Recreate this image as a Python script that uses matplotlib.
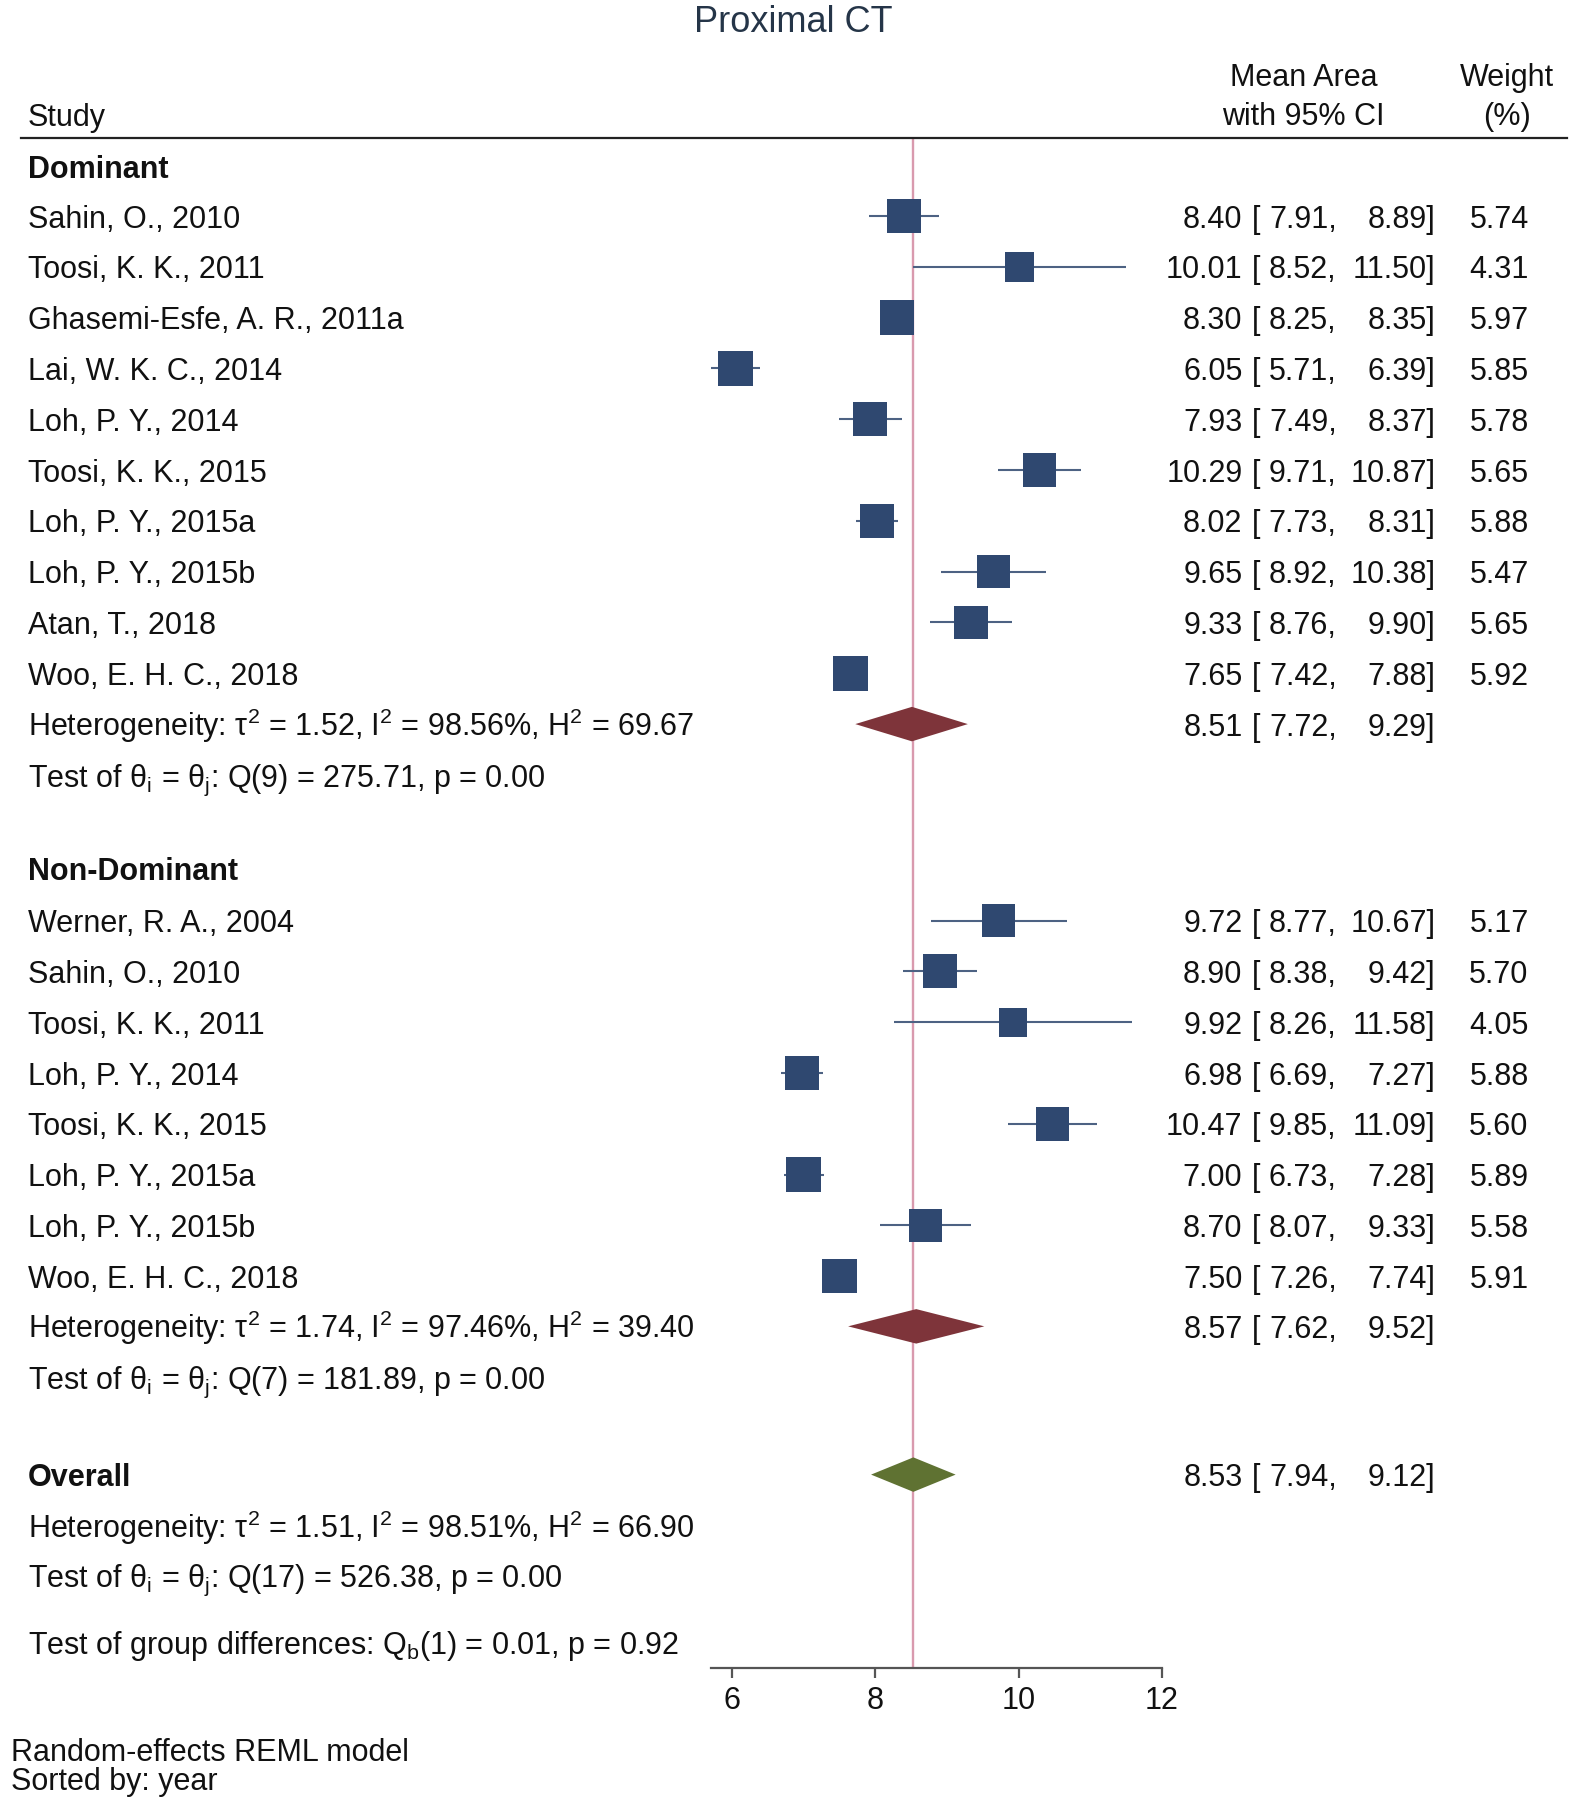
import matplotlib
matplotlib.use("Agg")
import matplotlib.pyplot as plt
from matplotlib.transforms import blended_transform_factory
import numpy as np

plt.rcParams['font.family'] = ['Liberation Sans', 'DejaVu Sans']
plt.rcParams['mathtext.fontset'] = 'custom'
plt.rcParams['mathtext.rm'] = 'Liberation Sans'
plt.rcParams['mathtext.it'] = 'Liberation Sans'

# ---- data ----
dom_study = ["Sahin, O., 2010", "Toosi, K. K., 2011", "Ghasemi-Esfe, A. R., 2011a",
             "Lai, W. K. C., 2014", "Loh, P. Y., 2014", "Toosi, K. K., 2015",
             "Loh, P. Y., 2015a", "Loh, P. Y., 2015b", "Atan, T., 2018", "Woo, E. H. C., 2018"]
dom_mean = [8.40, 10.01, 8.30, 6.05, 7.93, 10.29, 8.02, 9.65, 9.33, 7.65]
dom_lo = [7.91, 8.52, 8.25, 5.71, 7.49, 9.71, 7.73, 8.92, 8.76, 7.42]
dom_hi = [8.89, 11.50, 8.35, 6.39, 8.37, 10.87, 8.31, 10.38, 9.90, 7.88]
dom_w = [5.74, 4.31, 5.97, 5.85, 5.78, 5.65, 5.88, 5.47, 5.65, 5.92]

nd_study = ["Werner, R. A., 2004", "Sahin, O., 2010", "Toosi, K. K., 2011", "Loh, P. Y., 2014",
            "Toosi, K. K., 2015", "Loh, P. Y., 2015a", "Loh, P. Y., 2015b", "Woo, E. H. C., 2018"]
nd_mean = [9.72, 8.90, 9.92, 6.98, 10.47, 7.00, 8.70, 7.50]
nd_lo = [8.77, 8.38, 8.26, 6.69, 9.85, 6.73, 8.07, 7.26]
nd_hi = [10.67, 9.42, 11.58, 7.27, 11.09, 7.28, 9.33, 7.74]
nd_w = [5.17, 5.70, 4.05, 5.88, 5.60, 5.89, 5.58, 5.91]

dom_pool = (8.51, 7.72, 9.29)
nd_pool = (8.57, 7.62, 9.52)
ov_pool = (8.53, 7.94, 9.12)

dom_het = r"Heterogeneity: τ$^\mathregular{2}$ = 1.52, I$^\mathregular{2}$ = 98.56%, H$^\mathregular{2}$ = 69.67"
dom_test = r"Test of θ$_\mathregular{i}$ = θ$_\mathregular{j}$: Q(9) = 275.71, p = 0.00"
nd_het = r"Heterogeneity: τ$^\mathregular{2}$ = 1.74, I$^\mathregular{2}$ = 97.46%, H$^\mathregular{2}$ = 39.40"
nd_test = r"Test of θ$_\mathregular{i}$ = θ$_\mathregular{j}$: Q(7) = 181.89, p = 0.00"
ov_het = r"Heterogeneity: τ$^\mathregular{2}$ = 1.51, I$^\mathregular{2}$ = 98.51%, H$^\mathregular{2}$ = 66.90"
ov_test = r"Test of θ$_\mathregular{i}$ = θ$_\mathregular{j}$: Q(17) = 526.38, p = 0.00"
grp_test = r"Test of group differences: Q$_\mathregular{b}$(1) = 0.01, p = 0.92"

xticks = [6, 8, 10, 12]

# ---- layout (units = pixels of a 1366 wide page) ----
W, H = 1366.0, 1566.1
x6, ppu = 636.9, 62.36
step = 44.2
dom_y = 188 + step * np.arange(len(dom_study))
nd_y = 801 + step * np.arange(len(nd_study))
FS = 22

sq_col = '#2f4870'
ci_col = '#4d6283'
red = '#7e343a'
green = '#5f7232'
ref_col = '#d99aae'

fig = plt.figure(figsize=(15.7, 18), dpi=100)
ax = fig.add_axes([0, 0, 1, 1])
ax.set_xlim(6 - x6 / ppu, 6 + (W - x6) / ppu)
ax.set_ylim(H, 0)
tr = blended_transform_factory(ax.transAxes, ax.transData)


def tx(x, y, s, ha='left', **kw):
    ax.text(x / W, y + 10, s, transform=tr, ha=ha, va='baseline', fontsize=FS,
            color='#111111', **kw)


def est_cols(y, m, lo, hi, w=None):
    tx(1081, y, f"{m:.2f}", ha='right')
    tx(1089, y, "[")
    tx(1163, y, f"{lo:.2f},", ha='right')
    tx(1249, y, f"{hi:.2f}]", ha='right')
    if w is not None:
        tx(1330, y, f"{w:.2f}", ha='right')


# reference line at overall estimate
ax.vlines(ov_pool[0], 119, 1451, color=ref_col, lw=1.7, zorder=1)

# study markers
for ys, m, lo, hi, w in [(dom_y, dom_mean, dom_lo, dom_hi, dom_w),
                         (nd_y, nd_mean, nd_lo, nd_hi, nd_w)]:
    ax.hlines(ys, lo, hi, color=ci_col, lw=1.5, zorder=2)
    ax.scatter(m, ys, s=104.5 * np.array(w), marker='s', color=sq_col, lw=0, zorder=3)

# pooled diamonds
dh = 15
for (m, lo, hi), y, c in [(dom_pool, 630, red), (nd_pool, 1154, red), (ov_pool, 1283, green)]:
    ax.fill([lo, m, hi, m], [y, y - dh, y, y + dh], color=c, lw=0, zorder=3)

# header
ax.text(690 / W, 28, "Proximal CT", transform=tr, ha='center', va='baseline',
        fontsize=26, color='#253548')
tx(24, 100, "Study")
tx(1134, 65, "Mean Area", ha='center')
tx(1134, 99, "with 95% CI", ha='center')
tx(1311, 65, "Weight", ha='center')
tx(1311, 99, "(%)", ha='center')
ax.plot([18 / W, 1363 / W], [120, 120], transform=tr, color='#222222', lw=1.6)

# dominant block
tx(24, 145, "Dominant", fontweight='bold')
for y, s, m, lo, hi, w in zip(dom_y, dom_study, dom_mean, dom_lo, dom_hi, dom_w):
    tx(24, y, s)
    est_cols(y, m, lo, hi, w)
tx(24, 630, dom_het)
est_cols(630, *dom_pool)
tx(24, 675, dom_test)

# non-dominant block
tx(24, 756, "Non-Dominant", fontweight='bold')
for y, s, m, lo, hi, w in zip(nd_y, nd_study, nd_mean, nd_lo, nd_hi, nd_w):
    tx(24, y, s)
    est_cols(y, m, lo, hi, w)
tx(24, 1154, nd_het)
est_cols(1154, *nd_pool)
tx(24, 1198, nd_test)

# overall
tx(24, 1283, "Overall", fontweight='bold')
est_cols(1283, *ov_pool)
tx(24, 1328, ov_het)
tx(24, 1371, ov_test)
tx(24, 1429, grp_test)

# x axis
for side in ['top', 'left', 'right']:
    ax.spines[side].set_visible(False)
ax.spines['bottom'].set_position(('data', 1451))
ax.spines['bottom'].set_bounds(min(dom_lo + nd_lo), 12)
ax.spines['bottom'].set_color('#555555')
ax.spines['bottom'].set_linewidth(1.6)
ax.set_xticks(xticks)
ax.set_xticklabels([str(t) for t in xticks])
ax.tick_params(axis='x', direction='out', length=7, width=1.6, color='#555555',
               labelsize=FS, pad=6, labelcolor='#111111')
ax.set_yticks([])

# footer
tx(10, 1522, "Random-effects REML model")
tx(10, 1547, "Sorted by: year")

fig.savefig("out.png", dpi=100)
